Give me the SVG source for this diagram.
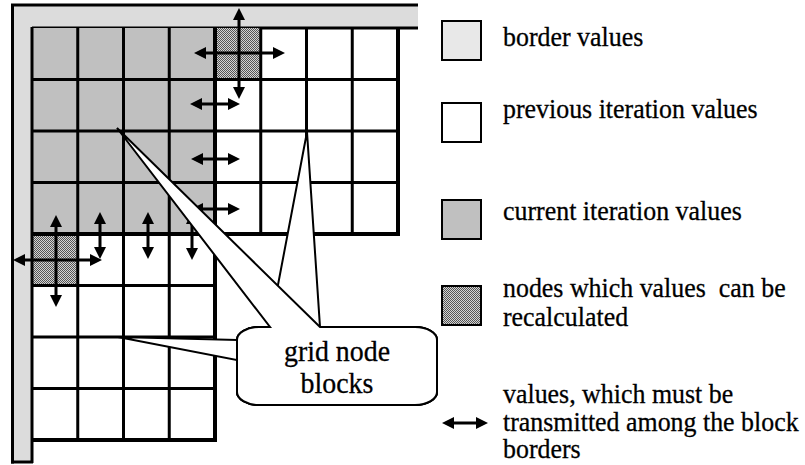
<svg xmlns="http://www.w3.org/2000/svg" width="805" height="465" viewBox="0 0 805 465">
  <style>
    .ln { stroke: #000; stroke-width: 3; fill: none; }
    .lnb { stroke: #000; stroke-width: 4; fill: none; }
    .arr { stroke: #000; stroke-width: 3; fill: none; marker-start: url(#head); marker-end: url(#head); }
    .call { fill: #fff; stroke: #000; stroke-width: 2; stroke-linejoin: miter; }
    .lbl { font-size: 28px; fill: #000; stroke: #000; stroke-width: 0.3; white-space: pre; }
    .ctext { font-size: 30px; fill: #000; stroke: #000; stroke-width: 0.3; text-anchor: middle; }
    .key { stroke: #000; stroke-width: 2; }
  </style>
  <defs>
    <marker id="head" viewBox="0 0 12 12" markerUnits="userSpaceOnUse" markerWidth="12" markerHeight="12" refX="4" refY="6" orient="auto-start-reverse">
      <path d="M0,0 L12,6 L0,12 Z" fill="#000"/>
    </marker>
    <pattern id="stip" width="2" height="2" patternUnits="userSpaceOnUse">
      <rect width="2" height="2" fill="#d4d4d4"/>
      <rect x="0" y="0" width="1" height="1" fill="#555"/>
      <rect x="1" y="1" width="1" height="1" fill="#555"/>
    </pattern>
  </defs>

  <rect width="805" height="465" fill="#fff"/>

  <!-- boundary strips (fixed border values) -->
  <g id="border">
    <rect x="13" y="6" width="405" height="22" fill="#dcdcdc"/>
    <rect x="13" y="6" width="19" height="456" fill="#dcdcdc"/>
    <line class="ln" x1="11" y1="5" x2="418" y2="5"/>
    <line class="ln" x1="12.5" y1="4" x2="12.5" y2="463.5"/>
    <line class="ln" x1="11" y1="462" x2="33" y2="462"/>
    <line class="ln" x1="32" y1="28" x2="418" y2="28"/>
  </g>

  <!-- grid of nodes -->
  <g id="grid">
    <rect x="32" y="28" width="183" height="206" fill="#c0c0c0"/>
    <rect x="215" y="28" width="45.75" height="51.5" fill="url(#stip)"/>
    <rect x="32" y="234" width="45.75" height="51.5" fill="url(#stip)"/>
    <!-- horizontal lines -->
    <line class="ln" x1="32" y1="79.5" x2="399" y2="79.5"/>
    <line class="ln" x1="32" y1="131" x2="399" y2="131"/>
    <line class="ln" x1="32" y1="182.5" x2="399" y2="182.5"/>
    <line class="lnb" x1="32" y1="234" x2="400" y2="234"/>
    <line class="ln" x1="32" y1="285.5" x2="216" y2="285.5"/>
    <line class="ln" x1="32" y1="337" x2="216" y2="337"/>
    <line class="ln" x1="32" y1="388.5" x2="216" y2="388.5"/>
    <line class="lnb" x1="31" y1="440" x2="217" y2="440"/>
    <!-- vertical lines -->
    <line class="ln" x1="32" y1="27" x2="32" y2="463"/>
    <line class="ln" x1="77.75" y1="28" x2="77.75" y2="440"/>
    <line class="ln" x1="123.5" y1="28" x2="123.5" y2="440"/>
    <line class="ln" x1="169.25" y1="28" x2="169.25" y2="440"/>
    <line class="lnb" x1="215" y1="28" x2="215" y2="442"/>
    <line class="ln" x1="260.75" y1="28" x2="260.75" y2="234"/>
    <line class="ln" x1="306.5" y1="28" x2="306.5" y2="234"/>
    <line class="ln" x1="352.25" y1="28" x2="352.25" y2="234"/>
    <line class="lnb" x1="398" y1="28" x2="398" y2="236"/>
  </g>

  <!-- exchange arrows between blocks -->
  <g id="connectors">
    <line class="arr" x1="239" y1="16" x2="239" y2="91"/>
    <line class="arr" x1="202" y1="53" x2="277" y2="53"/>
    <line class="arr" x1="198" y1="104" x2="232" y2="104"/>
    <line class="arr" x1="199" y1="159" x2="232" y2="159"/>
    <line class="arr" x1="199" y1="209" x2="232" y2="209"/>
    <line class="arr" x1="56" y1="223" x2="56" y2="299"/>
    <line class="arr" x1="21" y1="260" x2="94" y2="260"/>
    <line class="arr" x1="100" y1="220" x2="100" y2="251"/>
    <line class="arr" x1="148" y1="220" x2="148" y2="251"/>
    <line class="arr" x1="192" y1="220" x2="192" y2="252"/>
  </g>

  <!-- callout with three pointers -->
  <g id="callout" font-family="'Liberation Serif', 'Times New Roman', serif">
    <path class="call" d="M259,327 L415,327 A22 13 0 0 1 437,340 L437,392 A22 13 0 0 1 415,405 L259,405 A22 13 0 0 1 237,392 L237,360 L118,337 L237,340 A22 13 0 0 1 259,327 Z"/>
    <path class="call" d="M259,327 L270,327 L307,132 L320,327 L415,327 A22 13 0 0 1 437,340 L437,392 A22 13 0 0 1 415,405 L259,405 A22 13 0 0 1 237,392 L237,340 A22 13 0 0 1 259,327 Z"/>
    <path class="call" d="M259,327 L270,327 L117,128 L320,327 L415,327 A22 13 0 0 1 437,340 L437,392 A22 13 0 0 1 415,405 L259,405 A22 13 0 0 1 237,392 L237,340 A22 13 0 0 1 259,327 Z"/>
    <g transform="translate(337,0) scale(0.93,1)">
      <text class="ctext" x="0" y="361">grid node</text>
      <text class="ctext" x="0" y="393">blocks</text>
    </g>
  </g>

  <!-- legend -->
  <g id="legend" font-family="'Liberation Serif', 'Times New Roman', serif">
    <g id="legend-border">
      <rect class="key" x="442" y="21" width="39" height="39" fill="#e8e8e8"/>
      <text class="lbl" transform="translate(503,46) scale(0.925,1)">border values</text>
    </g>
    <g id="legend-previous">
      <rect class="key" x="442" y="103" width="39" height="39" fill="#fff"/>
      <text class="lbl" transform="translate(503,118) scale(0.925,1)">previous iteration values</text>
    </g>
    <g id="legend-current">
      <rect class="key" x="442" y="200" width="39" height="39" fill="#c0c0c0"/>
      <text class="lbl" transform="translate(503,220) scale(0.925,1)">current iteration values</text>
    </g>
    <g id="legend-recalc">
      <rect class="key" x="442" y="286" width="39" height="39" fill="url(#stip)"/>
      <text class="lbl" transform="translate(503,297) scale(0.925,1)">nodes which values  can be</text>
      <text class="lbl" transform="translate(503,326) scale(0.925,1)">recalculated</text>
    </g>
    <g id="legend-transmit">
      <line class="arr" x1="450" y1="423" x2="480" y2="423"/>
      <text class="lbl" transform="translate(503,403) scale(0.925,1)">values, which must be</text>
      <text class="lbl" transform="translate(503,431) scale(0.925,1)">transmitted among the block</text>
      <text class="lbl" transform="translate(503,458) scale(0.925,1)">borders</text>
    </g>
  </g>
</svg>
